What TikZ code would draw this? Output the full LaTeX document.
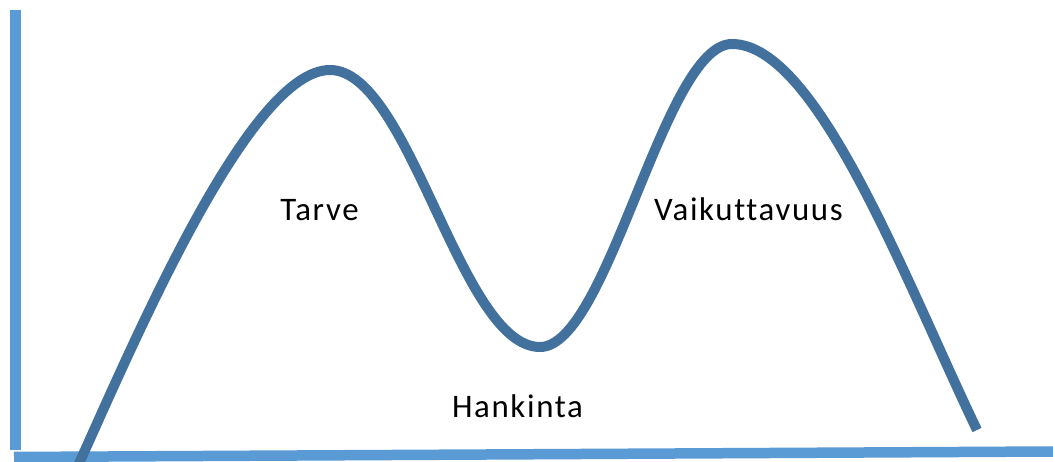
\documentclass[tikz,border=0pt]{standalone}
\usepackage{fontspec}
\setmainfont{Carlito}[LetterSpace=5,Ligatures={NoCommon}]
\definecolor{axisblue}{HTML}{5B9BD5}
\definecolor{curveblue}{HTML}{41719C}
\begin{document}
\begin{tikzpicture}[x=1bp,y=-1bp,
  axisline/.style={draw=axisblue,line width=11bp},
  curveline/.style={draw=curveblue,line width=10bp},
  label/.style={anchor=base,inner sep=0pt,font=\fontsize{33}{38}\selectfont,text=black}]
\useasboundingbox (0,0) rectangle (1053,462);
\clip (0,0) rectangle (1053,462);
\fill[white] (0,0) rectangle (1053,462);
% axes
\coordinate (ytop) at (15.5,10);
\coordinate (ybot) at (15.5,450);
\coordinate (xl) at (14,457);
\coordinate (xr) at (1053,451.5);
\draw[axisline] (ytop) -- (ybot);
\draw[axisline,line width=10.5bp] (xl) -- (xr);
% curve
\coordinate (s) at (77,468);
\coordinate (p1) at (330,70);
\coordinate (t) at (540,347);
\coordinate (p2) at (732,44);
\coordinate (e) at (977,430);
\draw[curveline] (s) .. controls (137,335) and (250,70) .. (p1)
  .. controls (410,70) and (460,347) .. (t)
  .. controls (608,347) and (664,44) .. (p2)
  .. controls (817,44) and (905,280) .. (e);
% labels
\node[label] (tarve) at (319.5,221) {Tarve};
\node[label] (vaik) at (748.5,221) {Vaikuttavuus};
\node[label] (hank) at (517.5,418) {Hankinta};
\end{tikzpicture}
\end{document}
